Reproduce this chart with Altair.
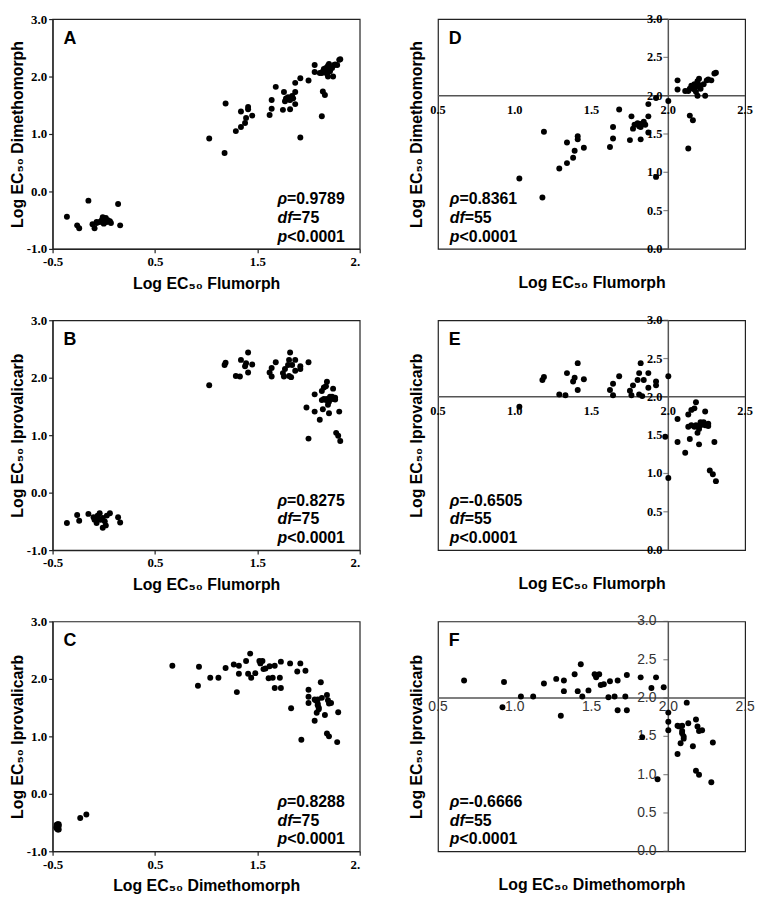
import altair as alt
import pandas as pd

# ---------------- data ----------------
# Panel A / D : Flumorph (x) vs Dimethomorph (y)
FLU_SENS_AD = [-0.36, -0.26, -0.24, -0.15, -0.11, -0.09, -0.07, -0.04, -0.01, 0.00,
               0.02, 0.03, 0.06, 0.07, 0.14, 0.16, -0.02, 0.01, -0.07, 0.04]
DIM_SENS_AD = [-0.44, -0.59, -0.64, -0.16, -0.57, -0.64, -0.55, -0.53, -0.45, -0.56,
               -0.46, -0.53, -0.52, -0.55, -0.22, -0.59, -0.50, -0.50, -0.53, -0.50]
FLU_RES_AD = [1.03, 1.18, 1.19, 1.29, 1.34, 1.34, 1.38, 1.39, 1.41, 1.41, 1.45, 1.62, 1.64, 1.64,
              1.68, 1.75, 1.76, 1.77, 1.80, 1.81, 1.82, 1.82, 1.84, 1.85, 1.87, 1.87, 1.87, 1.92,
              1.92, 2.00, 2.06, 2.06, 2.11, 2.14, 2.14, 2.16, 2.13, 2.17, 2.18, 2.19, 2.20, 2.20,
              2.21, 2.24, 2.25, 2.28, 2.30, 2.31, 2.23, 2.17, 2.13, 1.82, 1.78, 2.19, 2.15, 2.26, 2.18]
DIM_RES_AD = [0.92, 0.67, 1.53, 1.05, 1.12, 1.39, 1.19, 1.28, 1.47, 1.43, 1.32, 1.33, 1.59, 1.44,
              1.82, 1.42, 1.73, 1.57, 1.64, 1.60, 1.43, 1.59, 1.66, 1.62, 1.52, 1.73, 1.89, 1.97,
              0.94, 1.93, 2.20, 2.08, 2.06, 2.09, 1.74, 1.68, 1.31, 2.08, 2.12, 2.00, 2.22, 2.14,
              2.09, 2.00, 2.20, 2.20, 2.29, 2.30, 2.15, 2.15, 2.06, 1.63, 1.62, 2.19, 2.13, 2.21, 2.05]

# Panel B / E : Flumorph (x) vs Iprovalicarb (y)
FLU_SENS_BE = [-0.36, -0.26, -0.24, -0.15, -0.10, -0.09, -0.07, -0.06, -0.04, -0.02,
               -0.01, 0.01, 0.02, 0.03, 0.06, -0.04, -0.01, 0.14, 0.16, -0.07]
IPR_SENS_BE = [-0.53, -0.39, -0.49, -0.37, -0.43, -0.47, -0.53, -0.40, -0.36, -0.47,
               -0.61, -0.50, -0.57, -0.40, -0.36, -0.47, -0.44, -0.43, -0.52, -0.44]
FLU_RES_BE = [1.03, 1.18, 1.19, 1.29, 1.34, 1.33, 1.38, 1.39, 1.41, 1.41, 1.45, 1.62, 1.64, 1.64,
              1.68, 1.75, 1.76, 1.77, 1.80, 1.81, 1.81, 1.82, 1.83, 1.84, 1.87, 1.87, 1.92, 1.92,
              2.00, 2.00, 1.98, 2.06, 2.06, 2.11, 2.13, 2.14, 2.15, 2.15, 2.17, 2.18, 2.17, 2.19,
              2.20, 2.20, 2.21, 2.24, 2.24, 2.26, 2.30, 2.27, 2.29, 2.31, 2.18, 2.21, 2.23, 2.13, 2.26]
IPR_RES_BE = [1.87, 2.22, 2.26, 2.03, 2.31, 2.02, 2.20, 2.25, 2.09, 2.44, 2.23, 2.09, 2.17, 2.02,
              2.27, 2.08, 2.02, 2.15, 2.22, 2.31, 2.03, 2.44, 2.01, 2.22, 2.31, 2.12, 2.20, 2.15,
              2.27, 0.94, 1.48, 1.71, 1.41, 1.27, 1.77, 1.45, 1.63, 1.83, 1.85, 1.93, 1.61, 1.53,
              1.58, 1.38, 1.67, 1.81, 1.63, 1.62, 1.41, 1.04, 0.99, 0.90, 1.63, 1.63, 1.67, 1.61, 1.65]

# Panel C / F : Dimethomorph (x) vs Iprovalicarb (y)
DIM_SENS_CF = [-0.45, -0.45, -0.46, -0.45, -0.44, -0.46, -0.45, -0.45, -0.44, -0.46,
               -0.45, -0.45, -0.46, -0.44, -0.45, -0.45, -0.46, -0.45, -0.23, -0.17]
IPR_SENS_CF = [-0.53, -0.60, -0.57, -0.55, -0.62, -0.58, -0.54, -0.61, -0.56, -0.59,
               -0.57, -0.55, -0.60, -0.53, -0.58, -0.62, -0.54, -0.56, -0.42, -0.36]
DIM_RES_CF = [0.67, 0.93, 0.92, 1.04, 1.12, 1.19, 1.27, 1.30, 1.32, 1.32, 1.39, 1.41, 1.43, 1.44,
              1.48, 1.52, 1.53, 1.55, 1.56, 1.58, 1.61, 1.62, 1.65, 1.67, 1.67, 1.72, 1.73, 1.73,
              1.82, 1.89, 1.92, 1.97, 2.00, 2.00, 1.83, 1.93, 2.06, 2.06, 2.07, 2.08, 2.09, 2.10,
              2.12, 2.13, 2.16, 2.18, 2.19, 2.20, 2.18, 2.20, 2.28, 2.29, 2.09, 2.10, 2.09, 2.22, 2.00]
IPR_RES_CF = [2.23, 2.21, 1.88, 2.02, 2.02, 2.19, 2.25, 1.77, 2.23, 2.09, 2.31, 2.09, 2.44, 2.02,
              2.10, 2.31, 2.27, 2.31, 2.17, 2.18, 2.01, 2.22, 2.02, 2.23, 1.84, 2.02, 2.30, 1.84,
              2.27, 2.13, 2.27, 2.14, 1.81, 1.69, 1.49, 0.94, 1.27, 1.64, 1.63, 1.41, 1.57, 1.47,
              1.94, 1.67, 1.37, 1.72, 1.63, 1.57, 1.05, 1.00, 0.90, 1.42, 1.64, 1.50, 1.54, 1.58, 1.58]

LEFT_XTICKS = [-0.5, 0.5, 1.5, 2.5]
LEFT_YTICKS = [-1.0, 0.0, 1.0, 2.0, 3.0]
RIGHT_XTICKS = [0.5, 1.0, 1.5, 2.0, 2.5]
RIGHT_YTICKS = [0.0, 0.5, 1.0, 1.5, 2.0, 2.5, 3.0]
CROSS = 2.0

TITLE_FLU = "Log EC₅₀ Flumorph"
TITLE_DIM = "Log EC₅₀ Dimethomorph"
TITLE_IPR = "Log EC₅₀ Iprovalicarb"

STATS = {
    "A": [("ρ", "=0.9789"), ("df", "=75"), ("p", "<0.0001")],
    "B": [("ρ", "=0.8275"), ("df", "=75"), ("p", "<0.0001")],
    "C": [("ρ", "=0.8288"), ("df", "=75"), ("p", "<0.0001")],
    "D": [("ρ", "=0.8361"), ("df", "=55"), ("p", "<0.0001")],
    "E": [("ρ", "=-0.6505"), ("df", "=55"), ("p", "<0.0001")],
    "F": [("ρ", "=-0.6666"), ("df", "=55"), ("p", "<0.0001")],
}

# ---------------- style ----------------
SANS = "Liberation Sans"
SERIF = "Liberation Serif"
W, H = 310, 232
ITALIC_W = {"ρ": 9.6, "df": 15.0, "p": 9.8}
STAT_DY = [50, 31, 12]
LINE_COL = "#555555"

NEG_EXPR = "(datum.value < 0 ? '-' : '') + format(abs(datum.value), '.1f')"
X_LABEL_EXPR = "datum.value == 2.5 ? '2.' : " + NEG_EXPR


def annotations(letter, stats, sx):
    layers = [
        alt.Chart(pd.DataFrame({"t": [letter]})).mark_text(
            align="left", baseline="middle", font=SANS, fontSize=18,
            fontWeight="bold", color="black"
        ).encode(x=alt.value(11), y=alt.value(20), text="t:N")
    ]
    for (ital, rest), dy in zip(stats, STAT_DY):
        layers.append(
            alt.Chart(pd.DataFrame({"t": [ital]})).mark_text(
                align="left", baseline="middle", font=SANS, fontSize=16,
                fontWeight="bold", fontStyle="italic", color="black"
            ).encode(x=alt.value(sx), y=alt.value(H - dy), text="t:N")
        )
        layers.append(
            alt.Chart(pd.DataFrame({"t": [rest]})).mark_text(
                align="left", baseline="middle", font=SANS, fontSize=16,
                fontWeight="bold", color="black"
            ).encode(x=alt.value(sx + ITALIC_W[ital]), y=alt.value(H - dy), text="t:N")
        )
    return layers


def left_panel(xv, yv, xtitle, ytitle, letter):
    df = pd.DataFrame({"x": xv, "y": yv})
    xs = alt.Scale(domain=[-0.5, 2.5], nice=False, zero=False)
    ys = alt.Scale(domain=[-1.0, 3.0], nice=False, zero=False)
    xax = alt.Axis(values=LEFT_XTICKS, title=xtitle, labelExpr=X_LABEL_EXPR,
                   labelAlign={"condition": {"test": "datum.value == 2.5", "value": "right"},
                               "value": "center"},
                   tickSize=4, labelPadding=3, titlePadding=7, grid=False,
                   labelOverlap=False, labelFlush=False, labelBound=False)
    yax = alt.Axis(values=LEFT_YTICKS, title=ytitle, labelExpr=NEG_EXPR,
                   tickSize=4, labelPadding=2, titlePadding=1, grid=False,
                   labelOverlap=False, labelFlush=False)
    pts = alt.Chart(df).mark_circle(size=36, color="black", opacity=1).encode(
        x=alt.X("x:Q", scale=xs, axis=xax),
        y=alt.Y("y:Q", scale=ys, axis=yax),
    )
    return alt.layer(pts, *annotations(letter, STATS[letter], W - 83)).properties(width=W, height=H)


def right_panel(xv, yv, xtitle, ytitle, letter, sans_labels=False):
    df = pd.DataFrame({"x": xv, "y": yv})
    df = df[df["x"] >= 0.5]
    xs = alt.Scale(domain=[0.5, 2.5], nice=False, zero=False)
    ys = alt.Scale(domain=[0.0, 3.0], nice=False, zero=False)
    xax = alt.Axis(title=xtitle, labels=False, ticks=False, domain=False, grid=False, titlePadding=26)
    yax = alt.Axis(title=ytitle, labels=False, ticks=False, domain=False, grid=False, titlePadding=14)

    def X(f):
        return alt.X(f, scale=xs, axis=xax)

    def Y(f):
        return alt.Y(f, scale=ys, axis=yax)

    if sans_labels:
        lab = dict(font=SANS, fontSize=14, fontWeight="normal", color="#333333")
        ydx, xdy = -12, 2
    else:
        lab = dict(font=SERIF, fontSize=12.5, fontWeight="bold", color="black")
        ydx, xdy = -6, 8

    cross_df = pd.DataFrame({"c": [CROSS]})
    ytick_df = pd.DataFrame({"v": RIGHT_YTICKS, "c": [CROSS] * len(RIGHT_YTICKS)})
    xtick_df = pd.DataFrame({"v": RIGHT_XTICKS, "c": [CROSS] * len(RIGHT_XTICKS)})

    hline = alt.Chart(cross_df).mark_rule(color=LINE_COL, strokeWidth=1.5).encode(y=Y("c:Q"))
    vline = alt.Chart(cross_df).mark_rule(color=LINE_COL, strokeWidth=1.5).encode(x=X("c:Q"))
    yticks = alt.Chart(ytick_df).mark_tick(
        orient="horizontal", size=5, thickness=1.2, color=LINE_COL, xOffset=-2.5
    ).encode(x=X("c:Q"), y=Y("v:Q"))
    ylabels = alt.Chart(ytick_df).mark_text(
        align="right", baseline="middle", dx=ydx, **lab
    ).encode(x=X("c:Q"), y=Y("v:Q"), text=alt.Text("v:Q", format=".1f"))
    xlabels = alt.Chart(xtick_df).mark_text(
        align="center", baseline="top", dy=xdy, **lab
    ).encode(x=X("v:Q"), y=Y("c:Q"), text=alt.Text("v:Q", format=".1f"))
    pts = alt.Chart(df).mark_circle(size=36, color="black", opacity=1).encode(
        x=X("x:Q"), y=Y("y:Q")
    )
    return alt.layer(hline, vline, yticks, ylabels, xlabels, pts,
                     *annotations(letter, STATS[letter], 12)).properties(width=W, height=H)


A = left_panel(FLU_SENS_AD + FLU_RES_AD, DIM_SENS_AD + DIM_RES_AD, TITLE_FLU, TITLE_DIM, "A")
B = left_panel(FLU_SENS_BE + FLU_RES_BE, IPR_SENS_BE + IPR_RES_BE, TITLE_FLU, TITLE_IPR, "B")
C = left_panel(DIM_SENS_CF + DIM_RES_CF, IPR_SENS_CF + IPR_RES_CF, TITLE_DIM, TITLE_IPR, "C")
D = right_panel(FLU_SENS_AD + FLU_RES_AD, DIM_SENS_AD + DIM_RES_AD, TITLE_FLU, TITLE_DIM, "D")
E = right_panel(FLU_SENS_BE + FLU_RES_BE, IPR_SENS_BE + IPR_RES_BE, TITLE_FLU, TITLE_IPR, "E")
F = right_panel(DIM_SENS_CF + DIM_RES_CF, IPR_SENS_CF + IPR_RES_CF, TITLE_DIM, TITLE_IPR, "F",
                sans_labels=True)

chart = alt.concat(
    A, D, B, E, C, F, columns=2,
    spacing={"row": 72, "column": 79},
    bounds="flush",
).properties(
    padding={"left": 0, "top": 0, "right": 0, "bottom": 0}
).configure_view(
    stroke="#222222", strokeWidth=1.2
).configure_axis(
    labelFont=SERIF, labelFontSize=13, labelFontWeight="bold", labelColor="black",
    titleFont=SANS, titleFontSize=16, titleFontWeight="bold", titleColor="black",
    domainColor="#222222", tickColor="#222222", domainWidth=1.2, tickWidth=1.2,
)

chart.save("out.html", embed_options={"renderer": "svg", "actions": False})
